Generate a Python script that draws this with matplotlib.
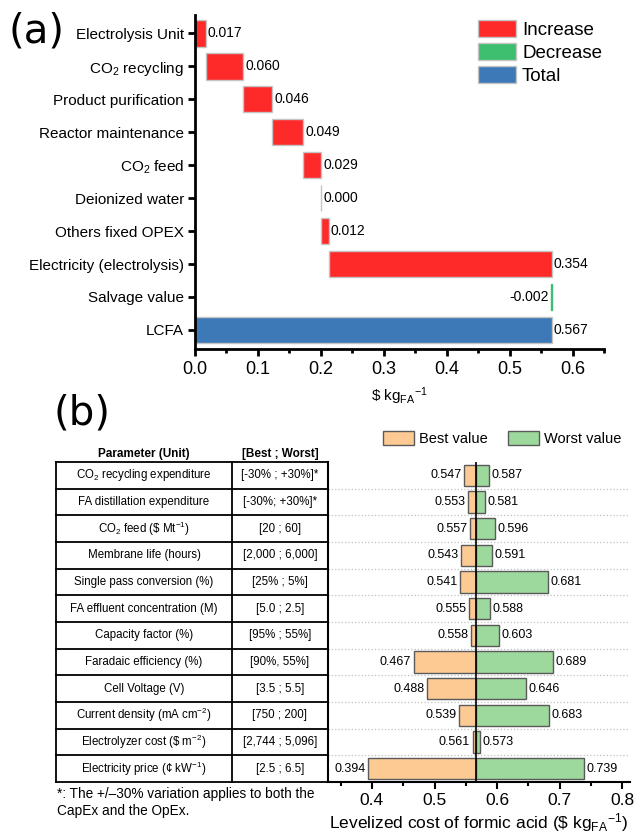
import numpy as np
import matplotlib
matplotlib.use("Agg")
import matplotlib.pyplot as plt
from matplotlib.patches import Patch
from matplotlib.ticker import MultipleLocator

plt.rcParams['font.family'] = ['Liberation Sans', 'DejaVu Sans']
plt.rcParams['mathtext.fontset'] = 'custom'
plt.rcParams['mathtext.rm'] = 'Liberation Sans'
plt.rcParams['mathtext.it'] = 'Liberation Sans:italic'
plt.rcParams['mathtext.bf'] = 'Liberation Sans:bold'
plt.rcParams['mathtext.default'] = 'regular'

# ---- (a) waterfall of cost contributions ----
wf_labels = ['Electrolysis Unit', 'CO$_2$ recycling', 'Product purification',
             'Reactor maintenance', 'CO$_2$ feed', 'Deionized water',
             'Others fixed OPEX', 'Electricity (electrolysis)', 'Salvage value']
wf_values = [0.017, 0.060, 0.046, 0.049, 0.029, 0.000, 0.012, 0.354, -0.002]
total_label = 'LCFA'
total_value = 0.567

# ---- (b) sensitivity (tornado) data ----
params = ['CO$_2$ recycling expenditure', 'FA distillation expenditure',
          'CO$_2$ feed (\\$ Mt$^{-1}$)', 'Membrane life (hours)',
          'Single pass conversion (%)', 'FA effluent concentration (M)',
          'Capacity factor (%)', 'Faradaic efficiency (%)', 'Cell Voltage (V)',
          'Current density (mA cm$^{-2}$)', 'Electrolyzer cost (\\$ m$^{-2}$)',
          'Electricity price (¢ kW$^{-1}$)']
ranges = ['[-30% ; +30%]*', '[-30%; +30%]*', '[20 ; 60]', '[2,000 ; 6,000]',
          '[25% ; 5%]', '[5.0 ; 2.5]', '[95% ; 55%]', '[90%, 55%]',
          '[3.5 ; 5.5]', '[750 ; 200]', '[2,744 ; 5,096]', '[2.5 ; 6.5]']
best = [0.547, 0.553, 0.557, 0.543, 0.541, 0.555, 0.558, 0.467, 0.488, 0.539, 0.561, 0.394]
worst = [0.587, 0.581, 0.596, 0.591, 0.681, 0.588, 0.603, 0.689, 0.646, 0.683, 0.573, 0.739]
base = 0.567

c_inc, c_dec, c_tot = '#fe2a2a', '#3cbf6e', '#3d79b6'
c_best, c_worst = '#fdca94', '#9dd89d'

W, H = 635, 835
fig = plt.figure(figsize=(W / 100, H / 100), dpi=100)


def frac(x0, y0, x1, y1):
    # pixel box (top-left origin) -> figure fraction rect
    return [x0 / W, 1 - y1 / H, (x1 - x0) / W, (y1 - y0) / H]


# ---------------- panel (a) ----------------
ax = fig.add_axes(frac(195, 15, 604, 349))
n = len(wf_values)
starts = np.concatenate([[0], np.cumsum(wf_values)[:-1]])
ends = starts + np.array(wf_values)
ypos = np.arange(n + 1)
cols = [c_inc if v >= 0 else c_dec for v in wf_values]
edges = ['#c4c4c4' if v >= 0 else c_dec for v in wf_values]
ax.barh(ypos[:n], wf_values, left=starts, height=0.8, color=cols,
        edgecolor=edges, linewidth=1)
ax.barh(ypos[n], total_value, left=0, height=0.8, color=c_tot,
        edgecolor='#c4c4c4', linewidth=1)
for i, v in enumerate(wf_values):
    if v < 0:
        ax.text(ends[i] - 0.003, i, f'{v:.3f}', ha='right', va='center', fontsize=10)
    else:
        ax.text(ends[i] + 0.003, i, f'{v:.3f}', ha='left', va='center', fontsize=10)
ax.text(total_value + 0.003, n, f'{total_value:.3f}', ha='left', va='center', fontsize=10)

ax.set_yticks(ypos)
ax.set_yticklabels(wf_labels + [total_label], fontsize=11)
ax.set_ylim(9.58, -0.56)
ax.set_xlim(0, 0.65)
ax.xaxis.set_major_locator(MultipleLocator(0.1))
ax.xaxis.set_minor_locator(MultipleLocator(0.05))
ax.tick_params(axis='x', which='major', length=5, width=2, labelsize=13, pad=4)
ax.tick_params(axis='x', which='minor', length=3, width=2)
ax.tick_params(axis='y', length=5, width=2, pad=3)
for s in ['top', 'right']:
    ax.spines[s].set_visible(False)
for s in ['left', 'bottom']:
    ax.spines[s].set_linewidth(2)
ax.set_xlabel('\\$ kg$_{FA}$$^{-1}$', fontsize=11, labelpad=5)

ax.legend(handles=[Patch(facecolor=c_inc, edgecolor='#c4c4c4', label='Increase'),
                   Patch(facecolor=c_dec, edgecolor='#c4c4c4', label='Decrease'),
                   Patch(facecolor=c_tot, edgecolor='#c4c4c4', label='Total')],
          loc='upper left', bbox_to_anchor=(478 / W, 1 - 20 / H),
          bbox_transform=fig.transFigure, frameon=False, fontsize=13.5,
          handlelength=2.05, handleheight=1.0, handletextpad=0.3,
          labelspacing=0.22, borderpad=0, borderaxespad=0)

fig.text(37 / W, 1 - 32 / H, '(a)', family='DejaVu Sans', fontsize=29,
         ha='center', va='center')
fig.text(82 / W, 1 - 413 / H, '(b)', family='DejaVu Sans', fontsize=29,
         ha='center', va='center')

# ---------------- panel (b): parameter table ----------------
tx0, tx1, ty0, ty1 = 56, 328, 462, 782
tab = fig.add_axes(frac(tx0, ty0, tx1, ty1))
nr = len(params)
tab.set_xlim(0, 1)
tab.set_ylim(nr, 0)
tab.axis('off')
xdiv = (232 - tx0) / (tx1 - tx0)
for k in range(nr + 1):
    tab.plot([0, 1], [k, k], color='black', lw=1.3, clip_on=False)
for xv in [0, xdiv, 1]:
    tab.plot([xv, xv], [0, nr], color='black', lw=1.3, clip_on=False)
for k in range(nr):
    tab.text(xdiv / 2, k + 0.5, params[k], ha='center', va='center', fontsize=8.3)
    tab.text((xdiv + 1) / 2, k + 0.5, ranges[k], ha='center', va='center', fontsize=8.3)
tab.text(xdiv / 2, -0.3, 'Parameter (Unit)', ha='center', va='center',
         fontsize=8.5, fontweight='bold')
tab.text((xdiv + 1) / 2, -0.3, '[Best ; Worst]', ha='center', va='center',
         fontsize=8.5, fontweight='bold')

fig.text(57 / W, 1 - 794 / H, '*: The +/\u201330% variation applies to both the',
         fontsize=9.8, ha='left', va='center')
fig.text(57 / W, 1 - 811 / H, 'CapEx and the OpEx.', fontsize=9.8, ha='left', va='center')

# ---------------- panel (b): tornado chart ----------------
bx = fig.add_axes(frac(328, ty0, 630, ty1))
yb = np.arange(nr)
bx.barh(yb, np.array(best) - base, left=base, height=0.8, color=c_best,
        edgecolor='#5a5a5a', linewidth=1, zorder=3)
bx.barh(yb, np.array(worst) - base, left=base, height=0.8, color=c_worst,
        edgecolor='#5a5a5a', linewidth=1, zorder=3)
for k in range(nr):
    bx.text(best[k] - 0.004, k, f'{best[k]:.3f}', ha='right', va='center', fontsize=9)
    bx.text(worst[k] + 0.004, k, f'{worst[k]:.3f}', ha='left', va='center', fontsize=9)
bx.axvline(base, color='black', lw=1.2, zorder=4)
bx.set_ylim(nr - 0.5, -0.5)
bx.set_xlim(0.33, 0.812)
bx.set_yticks([])
bx.set_yticks(np.arange(0.5, nr - 0.5), minor=True)
bx.grid(axis='y', which='minor', color='#c0c0c0', linestyle=':', linewidth=0.9, zorder=0)
bx.tick_params(axis='y', which='both', length=0)
bx.xaxis.set_major_locator(MultipleLocator(0.1))
bx.xaxis.set_minor_locator(MultipleLocator(0.05))
bx.tick_params(axis='x', which='major', length=5, width=1.5, labelsize=12.5, pad=3)
bx.tick_params(axis='x', which='minor', length=3, width=1.5)
for s in ['top', 'right']:
    bx.spines[s].set_visible(False)
for s in ['left', 'bottom']:
    bx.spines[s].set_linewidth(1.5)
bx.set_xlabel('Levelized cost of formic acid (\\$ kg$_{FA}$$^{-1}$)', fontsize=12.5, labelpad=2)

bx.legend(handles=[Patch(facecolor=c_best, edgecolor='#5a5a5a', label='Best value'),
                   Patch(facecolor=c_worst, edgecolor='#5a5a5a', label='Worst value')],
          loc='upper left', bbox_to_anchor=(383 / W, 1 - 431 / H),
          bbox_transform=fig.transFigure, frameon=False, fontsize=10.5, ncol=2,
          handlelength=2.1, handleheight=1.1, handletextpad=0.35,
          columnspacing=1.4, borderpad=0, borderaxespad=0)

fig.savefig('out.png', dpi=100)
